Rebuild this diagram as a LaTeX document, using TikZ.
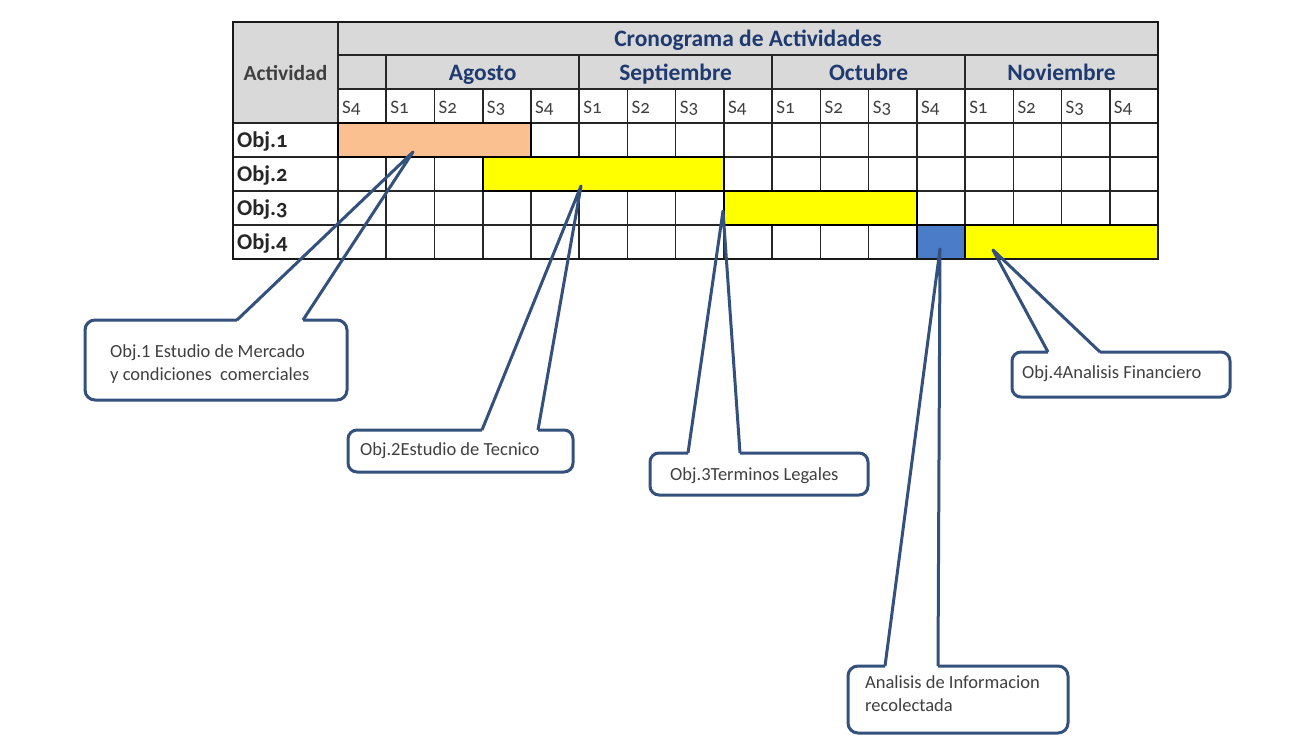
\documentclass[tikz,border=0pt]{standalone}
\usepackage{fontspec}
\setmainfont{Carlito}
\newfontfamily\tabfont{Carlito}[Numbers=OldStyle]
\usetikzlibrary{calc}
\definecolor{navy}{HTML}{1F3A70}
\definecolor{txtgray}{HTML}{404040}
\definecolor{hdrgray}{HTML}{D9D9D9}
\definecolor{peach}{HTML}{FAC090}
\definecolor{ybar}{HTML}{FFFF00}
\definecolor{bbar}{HTML}{4A7CC8}
\definecolor{callblue}{HTML}{34507C}
\tikzset{
  gridline/.style={draw=black!85, line width=1.6pt},
  outerline/.style={draw=black!90, line width=2.6pt},
  hdr/.style={font=\tabfont\bfseries\fontsize{23.5}{26}\selectfont, text=navy, inner sep=0pt, anchor=base},
  wk/.style={font=\tabfont\fontsize{19}{22}\selectfont, text=txtgray, anchor=base west, inner sep=0pt},
  objlbl/.style={font=\tabfont\bfseries\fontsize{22.5}{25}\selectfont, text=black!85, anchor=base west, inner sep=0pt},
  actlbl/.style={font=\tabfont\bfseries\fontsize{21.5}{24}\selectfont, text=txtgray, inner sep=0pt, anchor=base},
  barbox/.style={draw=black, line width=2.2pt},
  calltext/.style={font=\fontsize{18.5}{23}\selectfont, text=txtgray, align=left, anchor=west, inner sep=0pt},
  callline/.style={draw=callblue, line width=3pt, line join=round},
}
\begin{document}
\begin{tikzpicture}[x=1pt,y=-1pt]
\useasboundingbox[fill=white] (0,0) rectangle (1301,753);
\def\cw{48.235}
% backgrounds
\fill[hdrgray] (233,22) rectangle (1158,89);
\fill[hdrgray] (233,22) rectangle (338,123);
\fill[white] (338,89) rectangle (1158,259);
\fill[white] (233,123) rectangle (338,259);
% grid lines
\draw[gridline] (338,55) -- (1158,55);
\draw[gridline] (338,89) -- (1158,89);
\foreach \yy in {123,157,191,225} {\draw[gridline] (233,\yy) -- (1158,\yy);}
\draw[gridline] (338,22) -- (338,259);
\foreach \i in {1,5,9,13} {\draw[gridline] (338+\cw*\i,55) -- (338+\cw*\i,259);}
\foreach \i in {2,3,4,6,7,8,10,11,12,14,15,16} {\draw[gridline] (338+\cw*\i,89) -- (338+\cw*\i,259);}
% bars
\draw[barbox, fill=peach] (338,123) rectangle (338+\cw*4,157);
\draw[barbox, fill=ybar] (338+\cw*3,157) rectangle (338+\cw*8,191);
\draw[barbox, fill=ybar] (338+\cw*8,191) rectangle (338+\cw*12,225);
\draw[barbox, fill=bbar] (338+\cw*12,225) rectangle (338+\cw*13,259);
\draw[barbox, fill=ybar] (338+\cw*13,225) rectangle (1158,259);
\draw[outerline] (233,22) rectangle (1158,259);
% header texts
\node[hdr] (title) at (748,46) {Cronograma de Actividades};
\node[hdr] (ago) at (338+\cw*3,80.5) {Agosto};
\node[hdr] (sep) at (338+\cw*7,80.5) {Septiembre};
\node[hdr] (oct) at (338+\cw*11,80.5) {Octubre};
\node[hdr] (nov) at (338+\cw*15,80.5) {Noviembre};
\node[actlbl] (act) at (285.5,80) {Actividad};
\foreach \i in {0,...,16} {
  \pgfmathtruncatemacro\n{mod(\i+3,4)+1}
  \node[wk] (w\i) at (338+\cw*\i+4,113) {S\n};
}
\node[objlbl] (o1) at (237,147) {Obj.1};
\node[objlbl] (o2) at (237,181) {Obj.2};
\node[objlbl] (o3) at (237,215) {Obj.3};
\node[objlbl] (o4) at (237,249) {Obj.4};
% tips
\coordinate (t1) at (413,152);
\coordinate (t2) at (581,186);
\coordinate (t3) at (723,211);
\coordinate (t4) at (940,249);
\coordinate (t5) at (993,250);
% callout 1
\node[calltext] (c1) at (110,364) {Obj.1 Estudio de Mercado\\y condiciones\ \ comerciales};
\coordinate (c1a) at (237,320); \coordinate (c1b) at (303,320);
\draw[callline, rounded corners=10pt] (c1b) -- (347,320) -- (347,400) -- (85,400) -- (85,320) -- (c1a);
\draw[callline] (c1a) -- (t1) -- (c1b);
% callout 2
\node[calltext] (c2) at (360,451) {Obj.2Estudio de Tecnico};
\coordinate (c2a) at (482,430); \coordinate (c2b) at (538,430);
\draw[callline, rounded corners=9pt] (c2b) -- (573,430) -- (573,472) -- (348,472) -- (348,430) -- (c2a);
\draw[callline] (c2a) -- (t2) -- (c2b);
% callout 3
\node[calltext] (c3) at (670,476) {Obj.3Terminos Legales};
\coordinate (c3a) at (688,453); \coordinate (c3b) at (740,453);
\draw[callline, rounded corners=9pt] (c3b) -- (868,453) -- (868,495) -- (650,495) -- (650,453) -- (c3a);
\draw[callline] (c3a) -- (t3) -- (c3b);
% callout 4
\node[calltext] (c4) at (865,694) {Analisis de Informacion\\recolectada};
\coordinate (c4a) at (885,666); \coordinate (c4b) at (938,666);
\draw[callline, rounded corners=10pt] (c4b) -- (1068,666) -- (1068,733) -- (848,733) -- (848,666) -- (c4a);
\draw[callline] (c4a) -- (t4) -- (c4b);
% callout 5
\node[calltext] (c5) at (1022,374) {Obj.4Analisis Financiero};
\coordinate (c5a) at (1048,352); \coordinate (c5b) at (1100,352);
\draw[callline, rounded corners=9pt] (c5b) -- (1230,352) -- (1230,397) -- (1012,397) -- (1012,352) -- (c5a);
\draw[callline] (c5a) -- (t5) -- (c5b);
\end{tikzpicture}
\end{document}
